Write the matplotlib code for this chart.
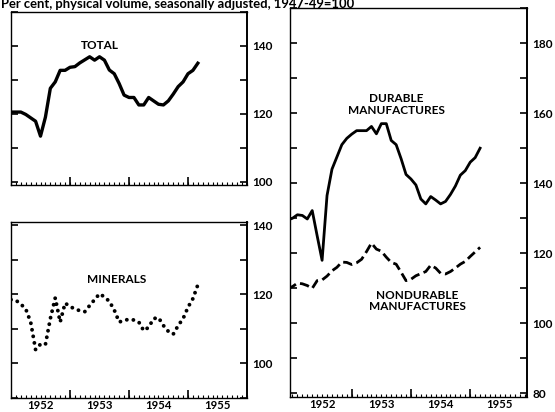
import numpy as np
import matplotlib
matplotlib.use('Agg')
import matplotlib.pyplot as plt
from matplotlib.ticker import FixedLocator, MultipleLocator

plt.rcParams['font.family'] = ['Lato', 'DejaVu Sans']
plt.rcParams['font.weight'] = 'bold'

# month index: 0 = Jan 1952 ; -1 = Dec 1951
months_full = np.arange(-1, 39)   # Dec 1951 .. Mar 1955
months_min = np.arange(0, 39)     # Jan 1952 .. Mar 1955

total = [120.5,
         120.5, 120.5, 120.5, 119.8, 118.8, 117.8, 113.4, 119.0, 127.5, 129.4, 132.8, 132.8,
         133.7, 133.9, 135.0, 135.9, 136.8, 135.8, 136.8, 135.8, 132.9, 131.8, 128.9, 125.5,
         124.8, 124.8, 122.6, 122.6, 124.8, 123.8, 122.8, 122.6, 123.8, 125.8, 128.0, 129.4,
         131.8, 132.8, 134.9]

minerals = [118.5, 118.3, 117.2, 115.8, 112.0, 104.0, 105.6, 105.5, 113.0, 119.0, 112.0, 117.5,
            116.5, 115.8, 115.3, 115.0, 116.8, 118.5, 120.2, 119.3, 118.0, 115.5, 112.0, 112.5,
            112.8, 112.6, 112.0, 109.5, 110.5, 113.0, 113.3, 111.0, 109.3, 108.5, 111.0, 113.0,
            116.3, 118.8, 122.8]

durable = [129.5,
           130.0, 131.0, 130.8, 129.8, 132.2, 125.0, 118.0, 136.5, 144.0, 147.5, 151.0, 152.8,
           154.0, 155.0, 155.0, 155.0, 156.2, 154.1, 157.0, 157.0, 152.2, 151.0, 147.0, 142.5,
           141.2, 139.5, 135.5, 134.1, 136.2, 135.2, 134.1, 134.8, 136.8, 139.2, 142.3, 143.6,
           146.0, 147.3, 150.0]

nondurable = [110.0,
              110.5, 111.5, 111.3, 110.8, 110.0, 112.2, 112.4, 113.5, 115.0, 116.0, 117.5, 117.4,
              116.8, 117.3, 118.3, 120.5, 122.9, 121.2, 120.6, 118.9, 117.4, 116.9, 114.6, 112.2,
              112.6, 113.6, 114.2, 114.8, 116.6, 115.8, 114.3, 114.1, 114.8, 115.8, 116.9, 117.7,
              119.1, 120.4, 121.7]

year_labels = ['1952', '1953', '1954', '1955']
year_mid = [6, 18, 30, 42]
year_bounds = [12, 24, 36]

title = 'Per cent, physical volume, seasonally adjusted, 1947-49=100'

W, H = 555, 412
fig = plt.figure(figsize=(W / 100, H / 100), dpi=100)


def add_ax(l, t, r, b):
    return fig.add_axes([l / W, 1 - b / H, (r - l) / W, (b - t) / H])


ax_t = add_ax(11, 12, 247, 185)
ax_m = add_ax(11, 222, 247, 398)
ax_d = add_ax(290, 8, 527, 397)

FS = 8.5


def style(ax, xlim, ylim, ylab, show_years):
    ax.set_xlim(*xlim)
    ax.set_ylim(*ylim)
    for s in ['top', 'left', 'bottom']:
        ax.spines[s].set_linewidth(1.0)
    ax.spines['right'].set_linewidth(1.4)
    ax.yaxis.set_major_locator(FixedLocator(ylab))
    ax.yaxis.set_minor_locator(MultipleLocator(10))
    ax.tick_params(axis='y', which='both', left=True, right=True, labelleft=False,
                   labelright=True, direction='in', length=5, width=1.2, pad=4,
                   labelsize=FS)
    ax.xaxis.remove_overlapping_locs = False
    ax.xaxis.set_major_locator(FixedLocator(year_mid))
    ax.xaxis.set_minor_locator(MultipleLocator(1))
    ax.tick_params(axis='x', which='minor', direction='in', length=2.2, width=0.8)
    ax.tick_params(axis='x', which='major', length=0, pad=1.5, labelsize=8.2,
                   labelbottom=show_years)
    if show_years:
        ax.set_xticklabels(year_labels)
    sec = ax.secondary_xaxis('bottom')
    sec.set_xticks(year_bounds)
    sec.tick_params(direction='in', length=6, width=1.2, labelbottom=False)
    sec.spines['bottom'].set_visible(False)


style(ax_t, (0, 48), (99, 150), [100, 120, 140], False)
style(ax_m, (0, 48), (90, 141), [100, 120, 140], True)
style(ax_d, (-0.5, 47.5), (79, 190), [80, 100, 120, 140, 160, 180], True)

ax_t.plot(months_full, total, color='black', lw=2.4, solid_joinstyle='round')
ax_m.plot(months_min, minerals, color='black', lw=2.8,
          linestyle=(0, (0.01, 1.7)), dash_capstyle='round')
ax_d.plot(months_full, durable, color='black', lw=2.0, solid_joinstyle='round')
ax_d.plot(months_full, nondurable, color='black', lw=2.0,
          linestyle=(0, (3.4, 1.6)))

ax_t.text(0.377, 0.806, 'TOTAL', transform=ax_t.transAxes, ha='center', va='center',
          fontsize=FS)
ax_m.text(0.449, 0.675, 'MINERALS', transform=ax_m.transAxes, ha='center', va='center',
          fontsize=FS)
ax_d.text(0.449, 0.752, 'DURABLE\nMANUFACTURES', transform=ax_d.transAxes, ha='center',
          va='center', fontsize=FS, linespacing=1.05)
ax_d.text(0.538, 0.247, 'NONDURABLE\nMANUFACTURES', transform=ax_d.transAxes, ha='center',
          va='center', fontsize=FS, linespacing=1.05)

fig.text(1 / W, 1 - 8 / H, title, ha='left', va='baseline', fontsize=9.4)

fig.savefig('out.png', dpi=100)
